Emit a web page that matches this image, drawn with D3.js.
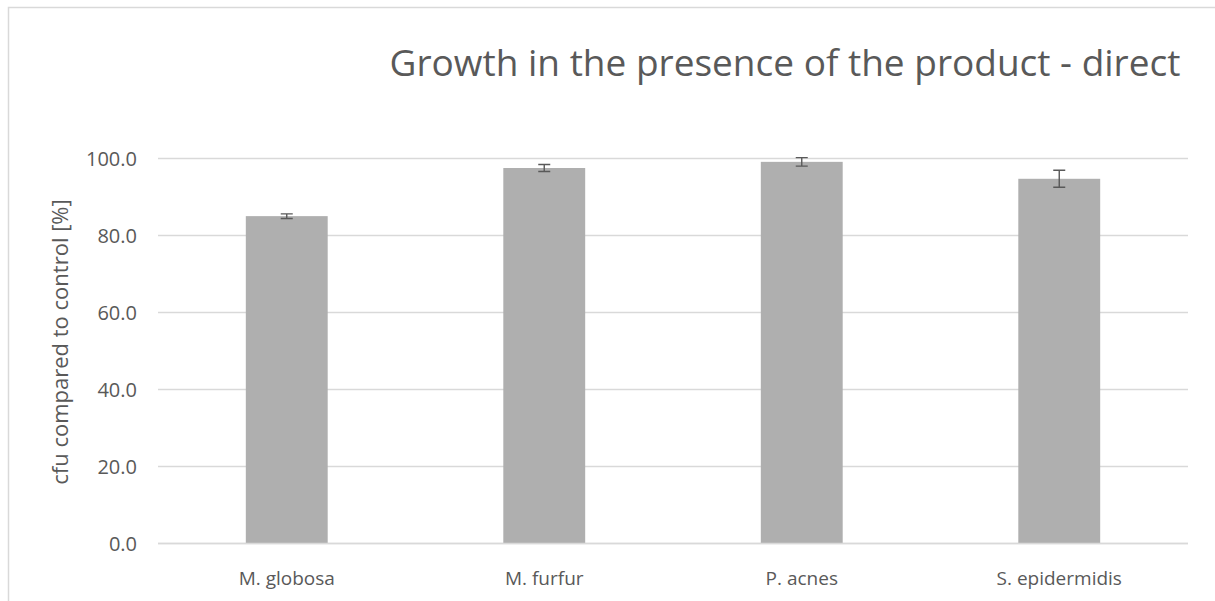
<!DOCTYPE html>
<html>
<head>
<meta charset="utf-8">
<script src="https://cdn.jsdelivr.net/npm/d3@7"></script>
<style>
  body { margin: 0; background: #fff; }
  svg text { font-family: "Open Sans", sans-serif; fill: #595959; }
</style>
</head>
<body>
<div id="chart"></div>
<script>
var categories = ['M. globosa', 'M. furfur', 'P. acnes', 'S. epidermidis'];
var values = [84.9, 97.4, 99.0, 94.6];
var errors = [0.6, 0.9, 1.1, 2.2];
var yTicks = [0, 20, 40, 60, 80, 100];

var width = 1215;
var height = 601;

var svg = d3.select('#chart').append('svg')
  .attr('width', width)
  .attr('height', height);

// chart frame (cropped on right and bottom)
svg.append('path')
  .attr('d', 'M8.5,' + height + ' V7.5 H' + width)
  .attr('fill', 'none')
  .attr('stroke', '#d9d9d9')
  .attr('stroke-width', 1.5);

var x = d3.scaleBand()
  .domain(categories)
  .range([158, 1188]);

var y = d3.scaleLinear()
  .domain([0, 100])
  .range([543, 158]);

var gridLayer = svg.append('g');
var barLayer = svg.append('g');
var errLayer = svg.append('g');

gridLayer.selectAll('line.grid').data(yTicks)
  .enter().append('line')
  .attr('class', 'grid')
  .attr('x1', 158)
  .attr('x2', 1188)
  .attr('y1', function(d) { return Math.round(y(d)) + 0.5; })
  .attr('y2', function(d) { return Math.round(y(d)) + 0.5; })
  .attr('stroke', '#d9d9d9')
  .attr('stroke-width', 1.3);

var yAxis = d3.axisLeft(y)
  .tickValues(yTicks)
  .tickSize(0)
  .tickPadding(0)
  .tickFormat(d3.format('.1f'));

svg.append('g')
  .attr('transform', 'translate(137,0)')
  .call(yAxis)
  .call(function(g) { g.select('.domain').remove(); })
  .selectAll('text')
  .attr('font-size', 20)
  .attr('font-family', '"Open Sans", sans-serif')
  .attr('dy', '0.35em')
  .style('fill', '#595959');

var barW = x.step() * 0.318;

barLayer.selectAll('rect.bar').data(values)
  .enter().append('rect')
  .attr('class', 'bar')
  .attr('x', function(d, i) { return x(categories[i]) + x.bandwidth() / 2 - barW / 2; })
  .attr('y', function(d) { return y(d); })
  .attr('width', barW)
  .attr('height', function(d) { return y(0) - y(d); })
  .attr('fill', '#afafaf');

// baseline redrawn over bars
svg.append('line')
  .attr('x1', 158).attr('x2', 1188)
  .attr('y1', Math.round(y(0)) + 0.5).attr('y2', Math.round(y(0)) + 0.5)
  .attr('stroke', '#d9d9d9')
  .attr('stroke-width', 1.3);

var cap = 6;
var errData = values.map(function(v, i) {
  return { cx: x(categories[i]) + x.bandwidth() / 2, lo: v - errors[i], hi: v + errors[i] };
});

errLayer.selectAll('path.err').data(errData)
  .enter().append('path')
  .attr('class', 'err')
  .attr('d', function(d) {
    return 'M' + d.cx + ',' + y(d.hi) + ' V' + y(d.lo) +
      ' M' + (d.cx - cap) + ',' + y(d.hi) + ' H' + (d.cx + cap) +
      ' M' + (d.cx - cap) + ',' + y(d.lo) + ' H' + (d.cx + cap);
  })
  .attr('fill', 'none')
  .attr('stroke', '#595959')
  .attr('stroke-width', 1.4);

svg.append('g').selectAll('text.cat').data(categories)
  .enter().append('text')
  .attr('class', 'cat')
  .attr('x', function(d) { return x(d) + x.bandwidth() / 2; })
  .attr('y', 585)
  .attr('text-anchor', 'middle')
  .attr('font-size', 19)
  .text(function(d) { return d; });

svg.append('text')
  .attr('x', 785)
  .attr('y', 76)
  .attr('text-anchor', 'middle')
  .attr('font-size', 37)
  .text('Growth in the presence of the product - direct');

svg.append('text')
  .attr('transform', 'translate(68,' + 342 + ') rotate(-90)')
  .attr('text-anchor', 'middle')
  .attr('font-size', 22)
  .text('cfu compared to control [%]');
</script>
</body>
</html>
